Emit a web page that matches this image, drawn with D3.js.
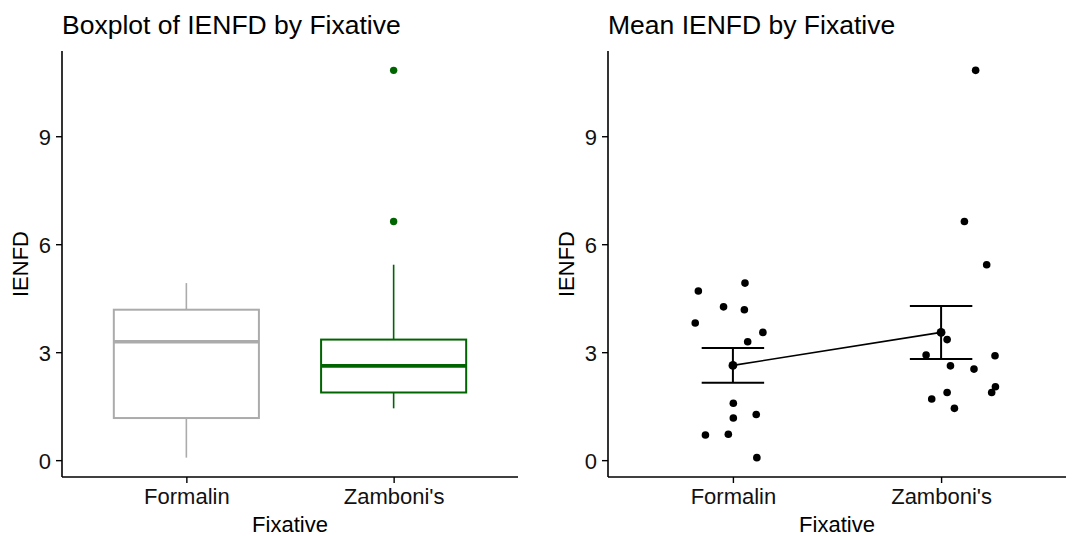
<!DOCTYPE html>
<html>
<head>
<meta charset="utf-8">
<script src="https://cdn.jsdelivr.net/npm/d3@7"></script>
<style>
  html, body { margin: 0; padding: 0; background: #fff; }
  svg text { font-family: "Liberation Sans", Arial, sans-serif; }
</style>
</head>
<body>
<svg id="chart" width="1079" height="536"></svg>
<script>
// IENFD measurements per fixative
const categories = ["Formalin", "Zamboni's"];
const formalinValues = [4.70, 4.92, 4.26, 4.18, 3.81, 3.55, 3.29, 1.58, 1.17, 1.27, 0.70, 0.72, 0.07];
const zamboniValues  = [10.83, 6.63, 5.43, 3.35, 2.92, 2.90, 2.62, 2.53, 2.04, 1.88, 1.88, 1.70, 1.44];
// horizontal jitter of each point, in category-step units
const formalinJitter = [-0.166, 0.058, -0.045, 0.055, -0.181, 0.144, 0.071, 0.002, 0.002, 0.112, -0.132, -0.022, 0.115];
const zamboniJitter  = [0.166, 0.112, 0.219, 0.029, -0.072, 0.259, 0.045, 0.158, 0.261, 0.243, 0.029, -0.045, 0.064];
const yTicks = [0, 3, 6, 9];
const boxColors = ["#ababab", "#006400"];

const groups = categories.map((c, i) => ({
  name: c,
  values: i === 0 ? formalinValues : zamboniValues,
  jitter: i === 0 ? formalinJitter : zamboniJitter,
  color: boxColors[i]
}));

const svg = d3.select("#chart");

// shared y scale with 5% expansion around the data range
const allVals = formalinValues.concat(zamboniValues);
const [lo, hi] = d3.extent(allVals);
const pad = (hi - lo) * 0.05;
const yDomain = [lo - pad, hi + pad];
const plotTop = 51, plotBottom = 477;

function panel(x0, x1, title) {
  const g = svg.append("g");
  const x = d3.scalePoint().domain(categories).range([x0, x1]).padding(0.6);
  const y = d3.scaleLinear().domain(yDomain).range([plotBottom, plotTop]);

  g.append("text").attr("x", x0).attr("y", 34)
    .attr("font-size", 26.5).attr("fill", "#000").text(title);

  const yAxis = g.append("g").attr("transform", `translate(${x0},0)`)
    .call(d3.axisLeft(y).tickValues(yTicks).tickSize(6).tickPadding(5).tickSizeOuter(0));
  const xAxis = g.append("g").attr("transform", `translate(0,${plotBottom})`)
    .call(d3.axisBottom(x).tickSize(6).tickPadding(4).tickSizeOuter(0));
  [yAxis, xAxis].forEach(a => {
    a.select(".domain").attr("stroke", "#000").attr("stroke-width", 1.6);
    a.selectAll(".tick line").attr("stroke", "#000").attr("stroke-width", 1.4);
    a.selectAll(".tick text").attr("font-size", 22).attr("fill", "#111");
  });
  xAxis.selectAll(".tick text").attr("dy", "0.78em");
  yAxis.selectAll(".tick text").attr("dy", "0.36em");
  // axis lines meet at the lower-left corner
  yAxis.select(".domain").attr("d", `M0,${plotTop}V${plotBottom}`);
  xAxis.select(".domain").attr("d", `M${x0},0H${x1}`);

  g.append("text").attr("x", (x0 + x1) / 2).attr("y", 532)
    .attr("text-anchor", "middle").attr("font-size", 22).attr("fill", "#000").text("Fixative");
  g.append("text").attr("transform", `translate(${x0 - 34},${(plotTop + plotBottom) / 2}) rotate(-90)`)
    .attr("text-anchor", "middle").attr("font-size", 22).attr("fill", "#000").text("IENFD");
  return { g, x, y };
}

// ---- Left: boxplot ----
{
  const { g, x, y } = panel(62, 518, "Boxplot of IENFD by Fixative");
  const bw = x.step() * 0.7;
  groups.forEach(grp => {
    const v = grp.values.slice().sort(d3.ascending);
    const q1 = d3.quantile(v, 0.25), med = d3.quantile(v, 0.5), q3 = d3.quantile(v, 0.75);
    const iqr = q3 - q1;
    const inside = v.filter(d => d >= q1 - 1.5 * iqr && d <= q3 + 1.5 * iqr);
    const wLo = d3.min(inside), wHi = d3.max(inside);
    const outliers = v.filter(d => d < wLo || d > wHi);
    const cx = x(grp.name);
    const bg = g.append("g").attr("stroke", grp.color).attr("fill", "none");
    bg.append("line").attr("x1", cx).attr("x2", cx).attr("y1", y(q3)).attr("y2", y(wHi)).attr("stroke-width", 1.6);
    bg.append("line").attr("x1", cx).attr("x2", cx).attr("y1", y(q1)).attr("y2", y(wLo)).attr("stroke-width", 1.6);
    bg.append("rect").attr("x", cx - bw / 2).attr("width", bw)
      .attr("y", y(q3)).attr("height", y(q1) - y(q3))
      .attr("fill", "#fff").attr("stroke-width", 2);
    bg.append("line").attr("x1", cx - bw / 2).attr("x2", cx + bw / 2)
      .attr("y1", y(med)).attr("y2", y(med)).attr("stroke-width", 3.6);
    g.selectAll(null).data(outliers).enter().append("circle")
      .attr("cx", cx).attr("cy", d => y(d)).attr("r", 3.7).attr("fill", grp.color);
  });
}

// ---- Right: mean ± SE with jittered points ----
{
  const { g, x, y } = panel(608, 1066, "Mean IENFD by Fixative");
  const stats = groups.map(grp => {
    const m = d3.mean(grp.values);
    const se = d3.deviation(grp.values) / Math.sqrt(grp.values.length);
    return { name: grp.name, mean: m, lo: m - se, hi: m + se };
  });
  groups.forEach(grp => {
    g.selectAll(null).data(grp.values).enter().append("circle")
      .attr("cx", (d, i) => x(grp.name) + grp.jitter[i] * x.step())
      .attr("cy", d => y(d)).attr("r", 3.8).attr("fill", "#000");
  });
  g.append("path").datum(stats)
    .attr("d", d3.line().x(d => x(d.name)).y(d => y(d.mean)))
    .attr("fill", "none").attr("stroke", "#000").attr("stroke-width", 1.6);
  const ew = x.step() * 0.15;
  stats.forEach(s => {
    const cx = x(s.name);
    const eg = g.append("g").attr("stroke", "#000").attr("stroke-width", 2);
    eg.append("line").attr("x1", cx).attr("x2", cx).attr("y1", y(s.lo)).attr("y2", y(s.hi));
    eg.append("line").attr("x1", cx - ew).attr("x2", cx + ew).attr("y1", y(s.lo)).attr("y2", y(s.lo));
    eg.append("line").attr("x1", cx - ew).attr("x2", cx + ew).attr("y1", y(s.hi)).attr("y2", y(s.hi));
    g.append("circle").attr("cx", cx).attr("cy", y(s.mean)).attr("r", 4.4).attr("fill", "#000");
  });
}
</script>
</body>
</html>
